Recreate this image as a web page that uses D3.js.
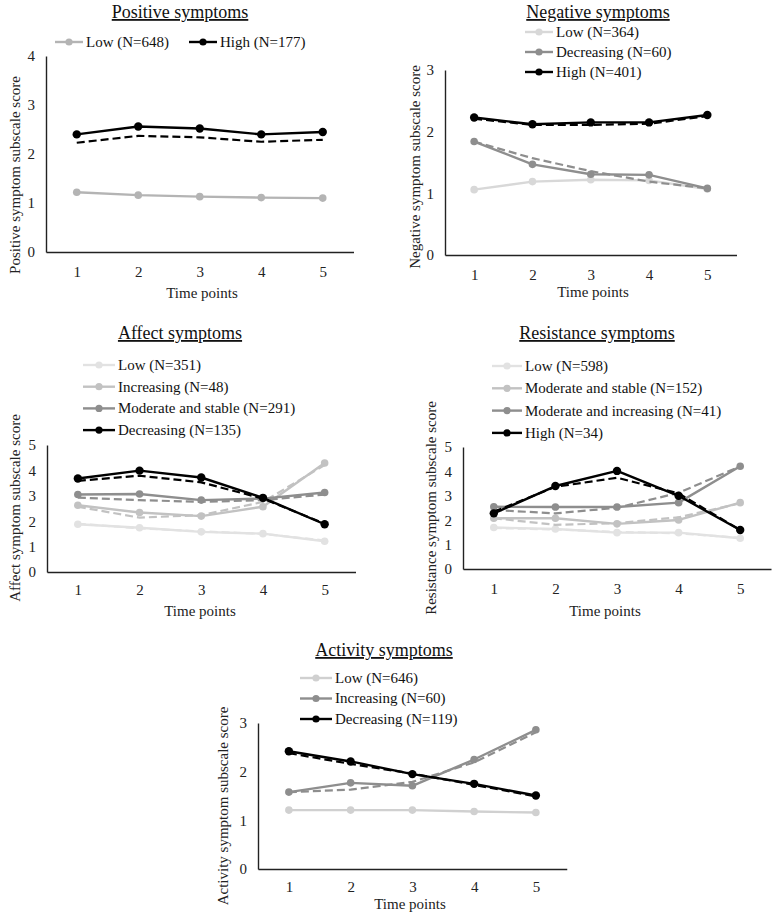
<!DOCTYPE html>
<html>
<head>
<meta charset="utf-8">
<script src="https://cdn.jsdelivr.net/npm/d3@7"></script>
<style>
  body { margin: 0; background: #fff; }
  svg { display: block; font-family: "Liberation Serif", "Times New Roman", serif; }
</style>
</head>
<body>
<svg id="chart" width="779" height="913"></svg>
<script>
const timePoints = [1, 2, 3, 4, 5];

// Positive symptoms
const posLabels = ["Low (N=648)", "High (N=177)"];
const posLow = [1.22, 1.16, 1.13, 1.11, 1.10];
const posHigh = [2.40, 2.56, 2.52, 2.40, 2.45];
const posHighFit = [2.23, 2.37, 2.34, 2.25, 2.29];

// Negative symptoms
const negLabels = ["Low (N=364)", "Decreasing (N=60)", "High (N=401)"];
const negLow = [1.06, 1.19, 1.22, 1.21, 1.07];
const negDecreasing = [1.84, 1.47, 1.31, 1.30, 1.08];
const negDecreasingFit = [1.84, 1.57, 1.36, 1.19, 1.08];
const negHigh = [2.23, 2.12, 2.15, 2.15, 2.27];
const negHighFit = [2.21, 2.11, 2.11, 2.13, 2.25];

// Affect symptoms
const affLabels = ["Low (N=351)", "Increasing (N=48)", "Moderate and stable (N=291)", "Decreasing (N=135)"];
const affLow = [1.88, 1.74, 1.58, 1.51, 1.21];
const affLowFit = [1.90, 1.72, 1.60, 1.50, 1.24];
const affIncreasing = [2.63, 2.34, 2.20, 2.57, 4.29];
const affIncreasingFit = [2.57, 2.14, 2.24, 2.76, 4.21];
const affModerate = [3.05, 3.07, 2.83, 2.89, 3.13];
const affModerateFit = [2.93, 2.83, 2.76, 2.83, 3.05];
const affDecreasing = [3.68, 3.99, 3.72, 2.92, 1.88];
const affDecreasingFit = [3.59, 3.79, 3.53, 2.89, 1.90];

// Resistance symptoms
const resLabels = ["Low (N=598)", "Moderate and stable (N=152)", "Moderate and increasing (N=41)", "High (N=34)"];
const resLow = [1.70, 1.64, 1.49, 1.49, 1.26];
const resLowFit = [1.68, 1.62, 1.52, 1.46, 1.28];
const resStable = [2.08, 2.08, 1.85, 2.01, 2.72];
const resStableFit = [2.08, 1.81, 1.88, 2.12, 2.69];
const resIncreasing = [2.55, 2.54, 2.54, 2.72, 4.21];
const resIncreasingFit = [2.42, 2.28, 2.51, 3.12, 4.21];
const resHigh = [2.28, 3.40, 4.02, 3.00, 1.60];
const resHighFit = [2.35, 3.37, 3.74, 3.10, 1.60];

// Activity symptoms
const actLabels = ["Low (N=646)", "Increasing (N=60)", "Decreasing (N=119)"];
const actLow = [1.21, 1.21, 1.21, 1.18, 1.16];
const actIncreasing = [1.58, 1.77, 1.71, 2.25, 2.86];
const actIncreasingFit = [1.58, 1.63, 1.79, 2.19, 2.81];
const actDecreasing = [2.42, 2.21, 1.95, 1.75, 1.51];
const actDecreasingFit = [2.38, 2.16, 1.96, 1.73, 1.49];

const C = {
  black: "#000000",
  mid: "#8e8e8e",
  light: "#c2c2c2",
  pale: "#e2e2e2"
};

const svg = d3.select("#chart");

function drawPanel(p) {
  const g = svg.append("g");
  const x = d3.scaleLinear().domain([0.5, 5.5]).range([p.left, p.left + 5 * p.step]);
  const y = d3.scaleLinear().domain([0, p.yMax]).range([p.bottom, p.top]);

  // title, underlined like the original
  g.append("text")
    .attr("x", p.titleX).attr("y", p.titleY)
    .attr("text-anchor", "middle")
    .attr("font-size", 18)
    .style("text-decoration", "underline")
    .attr("fill", "#111")
    .text(p.title);

  // axes, no tick marks
  const yAxis = g.append("g")
    .attr("transform", `translate(${p.left},0)`)
    .call(d3.axisLeft(y).ticks(p.yMax).tickSize(0).tickSizeOuter(0).tickPadding(p.yPad).tickFormat(d3.format("d")));
  const xAxis = g.append("g")
    .attr("transform", `translate(0,${p.bottom})`)
    .call(d3.axisBottom(x).tickValues(timePoints).tickSize(0).tickSizeOuter(0).tickPadding(p.xPad).tickFormat(d3.format("d")));
  [yAxis, xAxis].forEach(a => {
    a.attr("font-family", null).attr("font-size", 15);
    a.select(".domain").attr("stroke", "#222").attr("stroke-width", 1.4);
    a.selectAll("text").attr("fill", "#222");
  });

  g.append("text")
    .attr("x", p.xTitleX).attr("y", p.xTitleY)
    .attr("text-anchor", "middle")
    .attr("font-size", 15)
    .attr("fill", "#222")
    .text("Time points");

  g.append("text")
    .attr("transform", `translate(${p.yTitleX},${p.yTitleY}) rotate(-90)`)
    .attr("text-anchor", "middle")
    .attr("font-size", 15)
    .attr("fill", "#222")
    .text(p.yTitle);

  const line = d3.line().x((d, i) => x(timePoints[i])).y(d => y(d));

  p.series.forEach(s => {
    g.append("path")
      .attr("d", line(s.values))
      .attr("fill", "none")
      .attr("stroke", s.color)
      .attr("stroke-width", 2.4)
      .attr("stroke-linejoin", "round");
    g.selectAll(null)
      .data(s.values)
      .join("circle")
      .attr("cx", (d, i) => x(timePoints[i]))
      .attr("cy", d => y(d))
      .attr("r", s.color === C.black ? 4.2 : 3.8)
      .attr("fill", s.color);
    // estimated trajectory (dashed)
    if (s.fit) {
      g.append("path")
        .attr("d", line(s.fit))
        .attr("fill", "none")
        .attr("stroke", s.color)
        .attr("stroke-width", 2.2)
        .attr("stroke-dasharray", "8,4");
    }
  });

  // legend
  p.series.forEach((s, i) => {
    const lx = p.legend.row ? p.legend.xs[i] : p.legend.x;
    const ly = p.legend.row ? p.legend.y : p.legend.y + i * p.legend.dy;
    const item = g.append("g").attr("transform", `translate(${lx},${ly})`);
    item.append("line")
      .attr("x1", 0).attr("x2", p.legend.len)
      .attr("stroke", s.color).attr("stroke-width", 2.4);
    item.append("circle")
      .attr("cx", p.legend.len / 2).attr("r", 3.6)
      .attr("fill", s.color);
    item.append("text")
      .attr("x", p.legend.len + 3).attr("dy", "0.33em")
      .attr("font-size", 15)
      .attr("fill", "#111")
      .text(s.label);
  });
}

drawPanel({
  title: "Positive symptoms", titleX: 180, titleY: 18,
  left: 46, step: 61.5, top: 56, bottom: 252, yMax: 4, yPad: 11, xPad: 14,
  xTitleX: 202, xTitleY: 298,
  yTitle: "Positive symptom subscale score", yTitleX: 20, yTitleY: 175,
  legend: { row: true, xs: [55, 189], y: 42, len: 28 },
  series: [
    { label: posLabels[0], values: posLow, color: "#b4b4b4" },
    { label: posLabels[1], values: posHigh, fit: posHighFit, color: C.black }
  ]
});

drawPanel({
  title: "Negative symptoms", titleX: 598, titleY: 18,
  left: 445, step: 58.3, top: 70, bottom: 255, yMax: 3, yPad: 11, xPad: 14,
  xTitleX: 593, xTitleY: 297,
  yTitle: "Negative symptom subscale score", yTitleX: 420, yTitleY: 167,
  legend: { row: false, x: 525, y: 32, dy: 20, len: 28 },
  series: [
    { label: negLabels[0], values: negLow, color: "#d8d8d8" },
    { label: negLabels[1], values: negDecreasing, fit: negDecreasingFit, color: C.mid },
    { label: negLabels[2], values: negHigh, fit: negHighFit, color: C.black }
  ]
});

drawPanel({
  title: "Affect symptoms", titleX: 180, titleY: 339,
  left: 47, step: 61.7, top: 445, bottom: 572, yMax: 5, yPad: 11, xPad: 12,
  xTitleX: 200, xTitleY: 616,
  yTitle: "Affect symptom subscale score", yTitleX: 20, yTitleY: 508,
  legend: { row: false, x: 83, y: 365, dy: 21.7, len: 32 },
  series: [
    { label: affLabels[0], values: affLow, fit: affLowFit, color: C.pale },
    { label: affLabels[1], values: affIncreasing, fit: affIncreasingFit, color: C.light },
    { label: affLabels[2], values: affModerate, fit: affModerateFit, color: C.mid },
    { label: affLabels[3], values: affDecreasing, fit: affDecreasingFit, color: C.black }
  ]
});

drawPanel({
  title: "Resistance symptoms", titleX: 597, titleY: 339,
  left: 463, step: 61.6, top: 447, bottom: 569, yMax: 5, yPad: 11, xPad: 14,
  xTitleX: 605, xTitleY: 616,
  yTitle: "Resistance symptom subscale score", yTitleX: 436, yTitleY: 508,
  legend: { row: false, x: 492, y: 366, dy: 22.3, len: 30 },
  series: [
    { label: resLabels[0], values: resLow, fit: resLowFit, color: C.pale },
    { label: resLabels[1], values: resStable, fit: resStableFit, color: C.light },
    { label: resLabels[2], values: resIncreasing, fit: resIncreasingFit, color: C.mid },
    { label: resLabels[3], values: resHigh, fit: resHighFit, color: C.black }
  ]
});

drawPanel({
  title: "Activity symptoms", titleX: 384, titleY: 656,
  left: 258, step: 61.75, top: 723, bottom: 869, yMax: 3, yPad: 11, xPad: 12,
  xTitleX: 410, xTitleY: 909,
  yTitle: "Activity symptom subscale score", yTitleX: 228, yTitleY: 806,
  legend: { row: false, x: 300, y: 678, dy: 20.5, len: 32 },
  series: [
    { label: actLabels[0], values: actLow, color: "#d0d0d0" },
    { label: actLabels[1], values: actIncreasing, fit: actIncreasingFit, color: C.mid },
    { label: actLabels[2], values: actDecreasing, fit: actDecreasingFit, color: C.black }
  ]
});
</script>
</body>
</html>
